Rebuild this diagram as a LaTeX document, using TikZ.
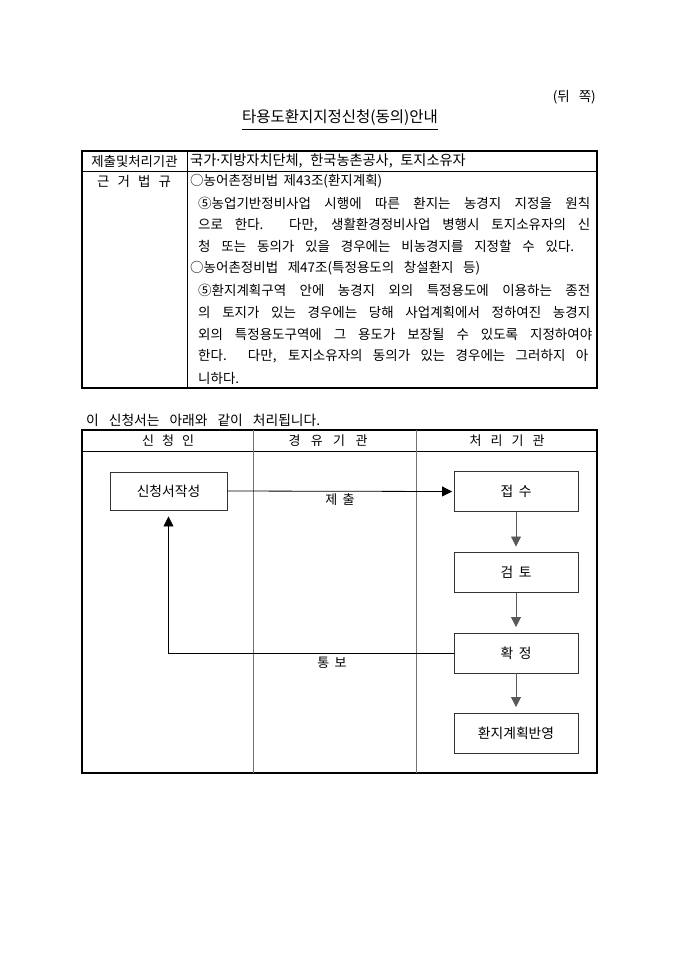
\documentclass[tikz,border=0pt]{standalone}
\usepackage{fontspec}
\setmainfont[WordSpace=1.8]{Noto Sans CJK KR}
\usetikzlibrary{arrows.meta}
\newcommand{\mdot}{\makebox[4pt][c]{·}}
\begin{document}
\begin{tikzpicture}[x=1pt,y=-1pt,
  every node/.style={inner sep=0pt, font=\fontsize{13.5}{15}\selectfont},
  thickframe/.style={line width=1.7pt, draw=black},
  thinrule/.style={line width=0.8pt, draw=black},
  lane/.style={line width=1pt, draw=black!55},
  flowbox/.style={draw=black!80, line width=0.9pt, minimum width=124pt, minimum height=40pt, font=\fontsize{13.8}{16}\selectfont},
  arr/.style={line width=0.8pt, -{Triangle[width=10pt,length=10pt]}},
  lbl/.style={font=\fontsize{13}{15}\selectfont}]
\useasboundingbox (0,0) rectangle (680,962);

% header texts
\node[anchor=east, font=\fontsize{13.5}{15}\selectfont] (back) at (596,97) {(뒤\hspace{9pt}쪽)};
\node[font=\fontsize{15.5}{18}\selectfont] (title) at (340,118) {타용도환지지정신청(동의)안내};
\draw[line width=0.7pt] ([yshift=-3pt]title.south west) -- ([yshift=-3pt]title.south east);

% top table
\draw[thickframe] (82,151) rectangle (597,388);
\draw[thinrule] (82,171) -- (597,171);
\draw[thinrule] (187,151) -- (187,388);
\node[font=\fontsize{13.4}{15}\selectfont] (r1a) at (134.5,161) {제출및처리기관};
\node[anchor=west, font=\fontsize{14.2}{15}\selectfont] (r1b) at (190,161) {국가\mdot 지방자치단체,\hspace{2pt} 한국농촌공사,\hspace{2pt} 토지소유자};
\node (r2a) at (134,181) {\makebox[74pt][s]{근 거 법 규}};
\node[anchor=west] (l1) at (190,181.0) {○농어촌정비법 제43조(환지계획)};
\node[anchor=west] (l2) at (198,202.9) {\makebox[392pt][s]{⑤농업기반정비사업 시행에 따른 환지는 농경지 지정을 원칙}};
\node[anchor=west] (l3) at (198,224.8) {\makebox[392pt][s]{으로 한다. 다만, 생활환경정비사업 병행시 토지소유자의 신}};
\node[anchor=west] (l4) at (198,246.7) {\makebox[376pt][s]{청 또는 동의가 있을 경우에는 비농경지를 지정할 수 있다.}};
\node[anchor=west] (l5) at (190,268.6) {\makebox[290pt][s]{○농어촌정비법 제47조(특정용도의 창설환지 등)}};
\node[anchor=west] (l6) at (198,290.5) {\makebox[392pt][s]{⑤환지계획구역 안에 농경지 외의 특정용도에 이용하는 종전}};
\node[anchor=west] (l7) at (198,312.4) {\makebox[392pt][s]{의 토지가 있는 경우에는 당해 사업계획에서 정하여진 농경지}};
\node[anchor=west] (l8) at (198,334.3) {\makebox[394pt][s]{외의 특정용도구역에 그 용도가 보장될 수 있도록 지정하여야}};
\node[anchor=west] (l9) at (198,356.2) {\makebox[390pt][s]{한다. 다만, 토지소유자의 동의가 있는 경우에는 그러하지 아}};
\node[anchor=west] (l10) at (198,378.1) {니하다.};

% flow intro
\node[anchor=west, font=\fontsize{13.8}{15}\selectfont] (intro) at (86,420) {\makebox[234pt][s]{이 신청서는 아래와 같이 처리됩니다.}};

% flow table
\draw[thickframe] (82,430) rectangle (597,773);
\draw[thinrule] (82,451) -- (597,451);
\draw[lane] (253,430) -- (253,773);
\draw[lane] (416,430) -- (416,773);
\node[lbl] (h1) at (168,441) {\makebox[52pt][s]{신 청 인}};
\node[lbl] (h2) at (328,441) {\makebox[79pt][s]{경 유 기 관}};
\node[lbl] (h3) at (507,441) {\makebox[75pt][s]{처 리 기 관}};

% boxes
\node[flowbox, minimum width=117pt, minimum height=38pt] (n1) at (168.5,491) {신청서작성};
\node[flowbox] (n2) at (516,491.5) {접 수};
\node[flowbox] (n3) at (516,572.5) {검 토};
\node[flowbox] (n4) at (516,653) {확 정};
\node[flowbox] (n5) at (516,733) {환지계획반영};

% connectors
\draw[arr, shorten >=1.5pt] (n1.east) -- (n2.west);
\draw[arr, draw=black!65, shorten >=5.5pt] (n2.south) -- (n3.north);
\draw[arr, draw=black!65, shorten >=5.5pt] (n3.south) -- (n4.north);
\draw[arr, draw=black!65, shorten >=5.5pt] (n4.south) -- (n5.north);
\draw[arr, shorten >=6pt] (n4.west) -| (n1.south);

\node[lbl] (t1) at (340,500) {제 출};
\node[lbl] (t2) at (332,663) {통 보};
\end{tikzpicture}
\end{document}
